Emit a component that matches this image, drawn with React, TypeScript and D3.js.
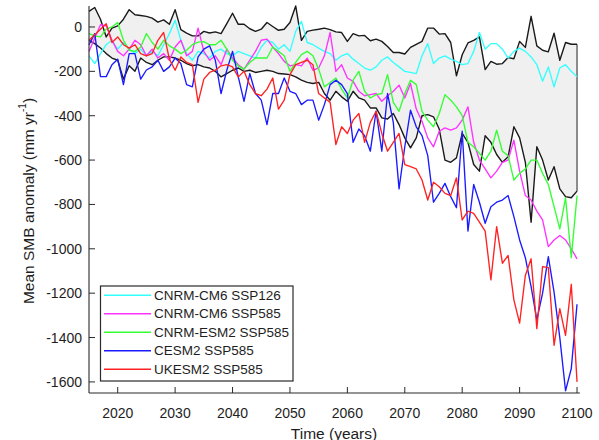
import React from "react";
import * as d3 from "d3";

const years: number[] = d3.range(2015, 2101);

const envelopeUpper = [
  70, 88, 35, -45, -5,
  5, 35, 78, 55, 52,
  48, 40, 22, 32, 12,
  78, -12, -28, -40, -40,
  -20, -27, -22, -30, 15,
  62, 12, 12, -8, -20,
  -10, 20, 2, -15, -10,
  20, 95, -60, -20, -14,
  -10, -5, -12, -22, -25,
  -65, -30, -40, -38, -62,
  -55, -65, -88, -115, -115,
  -122, -92, -78, -65, -5,
  -5, -32, -30, -70, -220,
  -125, -72, -60, -45, -192,
  -155, -168, -165, -138, -143,
  -65, -92, 48, -85, -105,
  -112, -28, -150, -70, -78,
  -78,
];

const envelopeLower = [
  -60, -75, -95, -120, -140,
  -150, -235, -175, -200, -140,
  -160, -170, -150, -135, -135,
  -140, -150, -165, -175, -170,
  -180, -185, -200, -225, -210,
  -195, -185, -200, -195, -205,
  -200, -195, -200, -210, -212,
  -215, -225, -240, -250, -255,
  -250, -300, -330, -290, -315,
  -335, -290, -320, -330, -365,
  -365, -410, -415, -390, -440,
  -500, -545, -500, -400, -395,
  -405, -460, -600, -610, -590,
  -480, -520, -620, -650, -490,
  -520, -575, -610, -585, -450,
  -500, -610, -880, -540, -600,
  -690, -630, -730, -765, -770,
  -740,
];

const cnrmCm6Ssp126 = [
  -130, -165, -120, -80, -60,
  -100, -70, -100, -120, -100,
  -130, -110, -130, -80, -30,
  30, -60, -120, -150, -110,
  -120, -140, -110, -100, -120,
  -130, -110, -120, -130, -140,
  -90, -60, -70, -100, -80,
  -110, -20, 25, -70, -80,
  -95, -110, -120, -150, -130,
  -120, -145, -165, -185, -195,
  -180, -150, -135, -160, -180,
  -200, -205, -210, -130, -75,
  -165, -140, -130, -145, -155,
  -170, -165, -110, -25, -100,
  -75, -75, -100, -140, -110,
  -95, -110, -135, -170, -245,
  -180, -270, -185, -170, -200,
  -225,
];

const cnrmCm6Ssp585 = [
  -110, -50, 10, 5, -60,
  -110, -130, -100, -60, -80,
  -130, -100, -140, -120, -150,
  -90, -60, -130, -110, -5,
  -110, -150, -130, -170, -100,
  -140, -170, -190, -150, -110,
  -60, -55, -90, -120, -155,
  -175, -170, -175, -140, -195,
  -185, -130, -25, -200, -170,
  -230, -245, -290, -310, -305,
  -300, -335, -310, -290, -262,
  -320, -255, -370, -425, -500,
  -540, -470, -455, -465, -455,
  -420, -360, -520, -600, -640,
  -680, -650, -610, -600, -510,
  -650, -760, -780, -830, -870,
  -990, -960, -940, -960, -1000,
  -1045,
];

const cnrmEsm2Ssp585 = [
  -30, -40, -45, -10, 0,
  20, -60, -105, -110, -90,
  -30, -70, -100, -60, -85,
  -100, -120, -105, -80, -68,
  -66, -80, -80, -60, -100,
  -150, -175, -190, -160, -140,
  -140, -140, -90, -110, -130,
  -200, -160, -125, -110, -130,
  -190, -270, -250, -230, -280,
  -320, -240, -200, -290, -320,
  -305, -300, -215, -340, -380,
  -300, -240, -260, -380, -420,
  -450, -390, -305, -330, -360,
  -400, -520, -540, -570, -600,
  -560, -465, -560, -580, -690,
  -660, -640, -600, -600, -660,
  -710, -810, -910, -770, -1040,
  -760,
];

const cesm2Ssp585 = [
  -80, -30, -224, -224, -170,
  -145, -260, -120, -120, -235,
  -194, -180, -150, -200, -180,
  -140, -165, -260, -270, -135,
  -100, -85, -150, -300, -195,
  -110, -225, -335, -210, -300,
  -330, -440, -300, -300, -230,
  -290, -300, -350, -330, -330,
  -420, -350, -260, -240, -260,
  -300, -520, -460, -490, -560,
  -380, -560, -300, -430, -730,
  -540, -375, -450, -490, -580,
  -790, -750, -705, -765, -815,
  -470, -920, -710, -790, -885,
  -810, -790, -780, -760, -855,
  -960, -1040, -1170, -1320, -1200,
  -1035, -1195, -1400, -1640, -1540,
  -1250,
];

const ukesm2Ssp585 = [
  -60, -35, -10, 15, -70,
  -45, -80, -95, -80, -120,
  -130, -120, -60, -25, -145,
  -195, -135, -160, -170, -340,
  -235, -205, -195, -175, -170,
  -180, -225, -200, -260, -300,
  -310, -280, -230, -370, -330,
  -215, -170, -160, -150, -170,
  -300, -320, -340, -530, -450,
  -480, -420, -390, -520, -430,
  -380, -480, -560, -520, -480,
  -620, -630, -640, -690, -780,
  -700, -720, -750, -760, -680,
  -870, -830, -840, -880, -920,
  -1140, -900, -1065, -1030, -1230,
  -1335, -1120, -1045, -1360, -1080,
  -1085, -1435, -1270, -1390, -1160,
  -1600,
];

const seriesNames = [
  "CNRM-CM6 SSP126",
  "CNRM-CM6 SSP585",
  "CNRM-ESM2 SSP585",
  "CESM2 SSP585",
  "UKESM2 SSP585",
];
const seriesValues = [cnrmCm6Ssp126, cnrmCm6Ssp585, cnrmEsm2Ssp585, cesm2Ssp585, ukesm2Ssp585];
const seriesColors = ["#33ffff", "#ff33ff", "#33ff33", "#1a1aff", "#ff2222"];

const xTicks = [2020, 2030, 2040, 2050, 2060, 2070, 2080, 2090, 2100];
const yTicks = [0, -200, -400, -600, -800, -1000, -1200, -1400, -1600];

const FONT = "'Liberation Sans', Arial, Helvetica, sans-serif";

export default function App() {
  const x = d3.scaleLinear().domain([2015, 2100.5]).range([89, 579.9]);
  const y = d3.scaleLinear().domain([-1650, 95]).range([393, 5.9]);

  const line = d3
    .line<number>()
    .x((_, i) => x(years[i]))
    .y((d) => y(d));

  const area = d3
    .area<number>()
    .x((_, i) => x(years[i]))
    .y0((_, i) => y(envelopeLower[i]))
    .y1((_, i) => y(envelopeUpper[i]));

  const last = years.length - 1;
  const axisColor = "#2a2a2a";
  const textColor = "#1e1e1e";

  const legendX = 100.5;
  const legendY = 286;
  const legendW = 192.5;
  const legendH = 95;
  const rowY = (i: number) => 295.3 + i * 18.5;

  return (
    <svg
      width={599}
      height={440}
      viewBox="0 0 599 440"
      style={{ position: "absolute", left: 0, top: 0, background: "#fff" }}
      fontFamily={FONT}
    >
      <rect x={0} y={0} width={599} height={440} fill="#fff" />
      <path d={area(envelopeUpper) || ""} fill="#f0f0f0" stroke="none" />
      <line
        x1={x(years[last])}
        x2={x(years[last])}
        y1={y(envelopeUpper[last])}
        y2={y(envelopeLower[last])}
        stroke="#8a8a8a"
        strokeWidth={2}
      />
      <path d={line(envelopeUpper) || ""} fill="none" stroke="#1a1a1a" strokeWidth={1.4} strokeLinejoin="round" />
      <path d={line(envelopeLower) || ""} fill="none" stroke="#1a1a1a" strokeWidth={1.4} strokeLinejoin="round" />

      {seriesValues.map((vals, k) => (
        <path
          key={seriesNames[k]}
          d={line(vals) || ""}
          fill="none"
          stroke={seriesColors[k]}
          strokeWidth={1.35}
          strokeLinejoin="round"
        />
      ))}

      <line x1={89} x2={89} y1={5.9} y2={393} stroke={axisColor} strokeWidth={1.1} />
      <line x1={89} x2={579.9} y1={393} y2={393} stroke={axisColor} strokeWidth={1.1} />
      {yTicks.map((t) => (
        <g key={"y" + t}>
          <line x1={89} x2={95} y1={y(t)} y2={y(t)} stroke={axisColor} strokeWidth={1} />
          <text x={82} y={y(t)} textAnchor="end" dominantBaseline="central" fontSize={14} fill={textColor}>
            {String(t)}
          </text>
        </g>
      ))}
      {xTicks.map((t) => (
        <g key={"x" + t}>
          <line x1={x(t)} x2={x(t)} y1={393} y2={387} stroke={axisColor} strokeWidth={1} />
          <text x={x(t)} y={413} textAnchor="middle" dominantBaseline="central" fontSize={14} fill={textColor}>
            {t}
          </text>
        </g>
      ))}
      <text x={334} y={433} textAnchor="middle" dominantBaseline="central" fontSize={15.5} fill={textColor}>
        Time (years)
      </text>
      <text
        transform="translate(28,201) rotate(-90)"
        textAnchor="middle"
        dominantBaseline="central"
        fontSize={15.5}
        fill={textColor}
      >
        Mean SMB anomaly (mm yr
        <tspan fontSize={10} dy={-6}>
          -1
        </tspan>
        <tspan dy={6}>)</tspan>
      </text>

      <rect x={legendX} y={legendY} width={legendW} height={legendH} fill="#fff" stroke="#2a2a2a" strokeWidth={1.2} />
      {seriesNames.map((name, i) => (
        <g key={"lg" + name}>
          <line x1={104} x2={151} y1={rowY(i)} y2={rowY(i)} stroke={seriesColors[i]} strokeWidth={1.4} />
          <text x={154} y={rowY(i)} dominantBaseline="central" fontSize={13.5} fill={textColor}>
            {name}
          </text>
        </g>
      ))}
    </svg>
  );
}
